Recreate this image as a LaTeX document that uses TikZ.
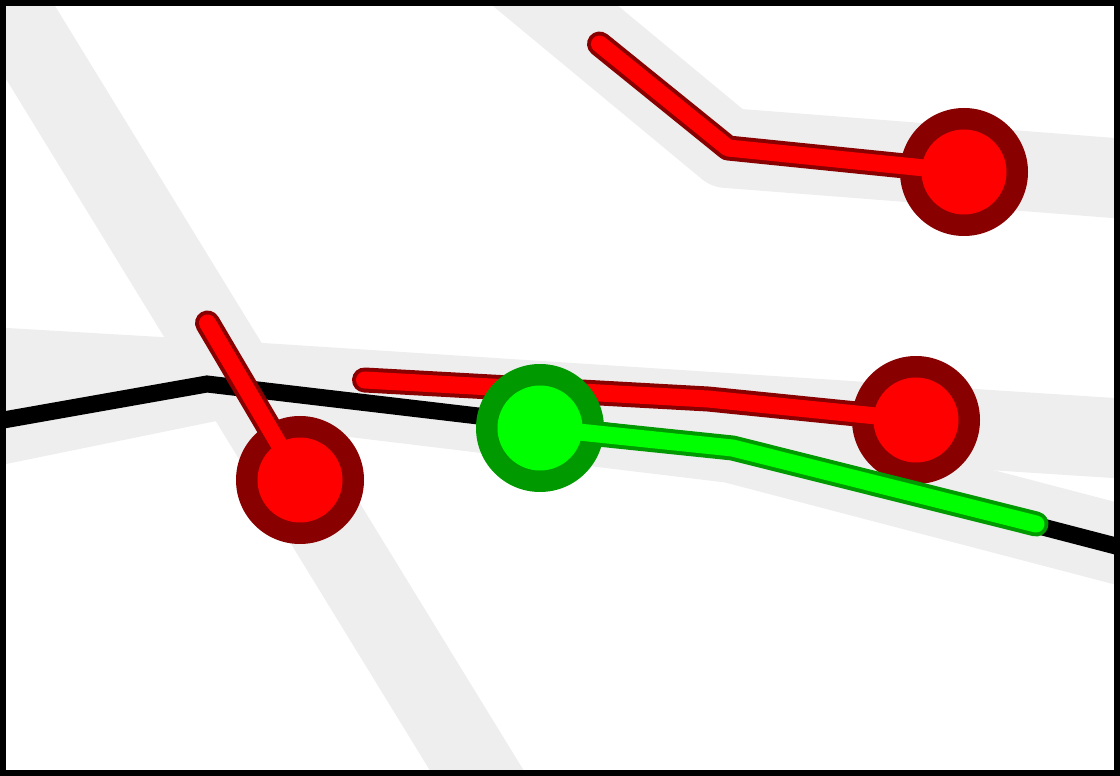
\documentclass[tikz,border=0pt]{standalone}
\usepackage{tikz}
\usepackage{xcolor}
\definecolor{roadgrey}{HTML}{EEEEEE}
\definecolor{darkred}{HTML}{880000}
\definecolor{darkgreen}{HTML}{009900}
\def\px{0.02cm}
\tikzset{
	road/.style={roadgrey,line width=80*\px,line join=round},
	route/.style={line width=17*\px,line cap=round,line join=round},
	rededge/.style={darkred,line width=25*\px,line cap=round,line join=round},
	greenedge/.style={darkgreen,line width=25*\px,line cap=round,line join=round},
	ring/.style={circle,inner sep=0pt,minimum size=128*\px},
	core/.style={circle,inner sep=0pt,minimum size=85*\px}
}
\begin{document}
\begin{tikzpicture}[x=\px,y=-\px]
\useasboundingbox (0,0) rectangle (1120,776);

% grey roads
\draw[road] (-32.3,-60) -- (513.3,830);
\draw[road] (488,-50) -- (727,148) -- (1160,181.6);
\draw[road] (-40,365.3) -- (262,383) -- (1160,441);
\draw[road] (-40,432.6) -- (215,380.5) -- (732,443) -- (1160,555);
\draw[black,line width=17*\px] (-40,427.7) -- (207,384) -- (730,445.7) -- (1160,557.5);

% red stops
\node[ring,fill=darkred] (ringa) at (300,480) {};
\node[ring,fill=darkred] (ringb) at (916,420) {};
\node[ring,fill=darkred] (ringc) at (964,172) {};
\coordinate (enda) at (207.5,323);
\coordinate (endb) at (364.5,380);
\coordinate (endc) at (599.5,44);
\draw[rededge] (enda) -- (ringa.center);
\draw[rededge] (endb) -- (708,399) -- (ringb.center);
\draw[rededge] (endc) -- (728,148) -- (ringc.center);
\draw[route,red] (enda) -- (ringa.center);
\draw[route,red] (endb) -- (708,399) -- (ringb.center);
\draw[route,red] (endc) -- (728,148) -- (ringc.center);
\node[core,fill=red] (corea) at (ringa) {};
\node[core,fill=red] (coreb) at (ringb) {};
\node[core,fill=red] (corec) at (ringc) {};

% green stop
\node[ring,fill=darkgreen] (ringd) at (540,428) {};
\coordinate (endd) at (1036,524);
\draw[greenedge] (ringd.center) -- (732.5,448) -- (endd);
\draw[route,green] (ringd.center) -- (732.5,448) -- (endd);
\node[core,fill=green] (cored) at (ringd) {};

% frame
\draw[black,line width=6*\px] (3,3) rectangle (1117,773);
\end{tikzpicture}
\end{document}
